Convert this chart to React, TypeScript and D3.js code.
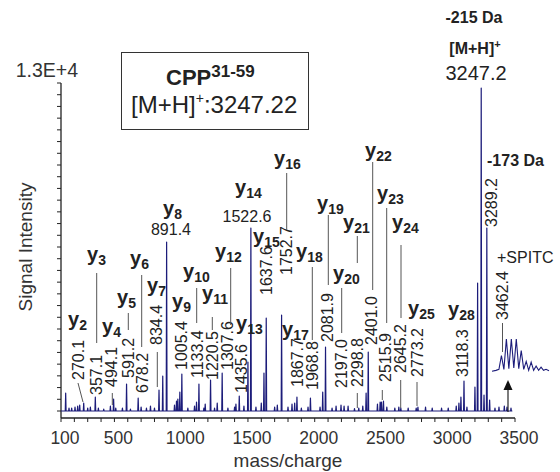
import React from "react";
import * as d3 from "d3";

// ---------- data ----------
const peakMz = [135, 270, 357, 494, 591, 678, 834, 862, 891, 990, 1005, 1115, 1133, 1220, 1307, 1435, 1500, 1522, 1620, 1637, 1752, 1850, 1867, 1968, 2060, 2081, 2197, 2220, 2298, 2385, 2401, 2490, 2515, 2645, 2773, 3095, 3118, 3200, 3220, 3247, 3268, 3289, 3310];
const peakInt = [768, 341, 598, 512, 1152, 555, 896, 1494, 7213, 811, 1579, 384, 1152, 1323, 1622, 640, 2091, 7810, 1622, 3969, 4097, 341, 598, 555, 811, 2731, 256, 213, 100, 768, 2518, 384, 427, 128, 171, 598, 1280, 1024, 5463, 13786, 683, 7810, 470];

const noiseMz = [160, 180, 205, 225, 240, 300, 320, 380, 420, 470, 510, 560, 620, 700, 740, 770, 800, 950, 965, 975, 1050, 1100, 1170, 1180, 1250, 1270, 1350, 1400, 1410, 1470, 1560, 1600, 1700, 1720, 1800, 1830, 1900, 1950, 2040, 2130, 2160, 2250, 2330, 2360, 2470, 2500, 2540, 2600, 2630, 2700, 2760, 2830, 2880, 2950, 3000, 3060, 3080, 3140, 3350, 3380, 3420, 3440, 3470];
const noiseInt = [128, 128, 171, 213, 256, 128, 171, 128, 85, 213, 128, 128, 85, 171, 128, 213, 128, 256, 427, 512, 128, 213, 128, 299, 128, 341, 128, 171, 299, 213, 171, 341, 171, 256, 171, 299, 128, 171, 171, 128, 213, 213, 128, 213, 299, 384, 171, 128, 171, 128, 128, 171, 128, 128, 128, 213, 341, 171, 128, 171, 213, 171, 128];

const insetMz = [3460.5, 3461.3, 3461.9, 3462.4, 3462.9, 3463.4, 3463.9, 3464.4, 3464.9, 3465.4, 3465.9, 3466.4, 3466.9, 3467.4, 3467.9, 3468.4, 3468.9, 3469.4, 3469.9, 3470.4, 3470.9, 3471.4, 3472];
const insetInt = [0.02, 0.05, 0.08, 0.5, 0.08, 1.0, 0.1, 1.0, 0.12, 1.0, 0.1, 0.65, 0.08, 0.32, 0.05, 0.3, 0.05, 0.18, 0.05, 0.15, 0.05, 0.08, 0.04];

const xTickLabels = [100, 500, 1000, 1500, 2000, 2500, 3000, 3500];

const ionNames = ["y2", "y3", "y4", "y5", "y6", "y7", "y8", "y9", "y10", "y11", "y12", "y13", "y14", "y15", "y16", "y17", "y18", "y19", "y20", "y21", "y22", "y23", "y24", "y25", "y28"];
const ionValues = ["270.1", "357.1", "494.1", "591.2", "678.2", "834.4", "891.4", "1005.4", "1133.4", "1220.5", "1307.6", "1435.6", "1522.6", "", "1752.7", "1867.7", "1968.8", "2081.9", "2197.0", "2298.8", "2401.0", "2515.9", "2645.2", "2773.2", "3118.3"];

// ---------- layout (positions of annotations) ----------
type Seg = [number, number, number, number];
const ionLayout: { lx: number; ly: number; vx: number; vb: number; horiz?: boolean; lines: Seg[] }[] = [
  { lx: 68, ly: 326, vx: 78, vb: 380, lines: [[78, 383, 83, 402]] },
  { lx: 87, ly: 261, vx: 96.7, vb: 395, lines: [[96.7, 273, 96.7, 343]] },
  { lx: 102, ly: 333, vx: 111.7, vb: 387, lines: [[112.3, 393, 112.3, 405]] },
  { lx: 117, ly: 304, vx: 128.3, vb: 378, lines: [[128.3, 313, 128.3, 330]] },
  { lx: 130, ly: 265, vx: 142.5, vb: 393, lines: [[141.7, 275, 141.7, 347]] },
  { lx: 147, ly: 292, vx: 156, vb: 345, lines: [[157.3, 352, 157.3, 387]] },
  { lx: 163, ly: 215, vx: 171, vb: 235, horiz: true, lines: [] },
  { lx: 172, ly: 308, vx: 181.7, vb: 370, lines: [] },
  { lx: 183, ly: 278, vx: 197.3, vb: 378, lines: [[196.7, 288, 196.7, 323]] },
  { lx: 202, ly: 300, vx: 212.3, vb: 380, lines: [[212.3, 317, 212.3, 330]] },
  { lx: 215, ly: 258, vx: 227.5, vb: 370, lines: [[230.7, 268, 230.7, 325]] },
  { lx: 236, ly: 330, vx: 241.7, vb: 393, lines: [] },
  { lx: 235, ly: 194, vx: 247, vb: 222, horiz: true, lines: [] },
  { lx: 253, ly: 243, vx: 0, vb: 0, lines: [] },
  { lx: 274, ly: 165, vx: 286, vb: 275, lines: [[286.7, 173, 286.7, 230]] },
  { lx: 282, ly: 336, vx: 297, vb: 387, lines: [] },
  { lx: 296, ly: 258, vx: 312.3, vb: 390, lines: [[312.3, 267, 312.3, 340]] },
  { lx: 317, ly: 210, vx: 327.3, vb: 342, lines: [[328.3, 215, 328.3, 285]] },
  { lx: 333, ly: 280, vx: 341, vb: 388, lines: [[341.7, 288, 341.7, 333]] },
  { lx: 343, ly: 229, vx: 357.3, vb: 387, lines: [[357.3, 236, 357.3, 263], [357.3, 393, 357.3, 408]] },
  { lx: 365, ly: 157, vx: 371.7, vb: 345, lines: [[372.7, 162, 372.7, 290]] },
  { lx: 377, ly: 200, vx: 385, vb: 382, lines: [[386.7, 208, 386.7, 323], [382.3, 390, 382.3, 400]] },
  { lx: 392, ly: 229, vx: 400.7, vb: 373, lines: [[401, 245, 401, 318], [400.7, 380, 400.7, 408]] },
  { lx: 408, ly: 315, vx: 417.3, vb: 377, lines: [[417, 382, 417, 406]] },
  { lx: 448, ly: 316, vx: 462.7, vb: 377, lines: [] },
];

const FONT = "'Liberation Sans', Arial, Helvetica, sans-serif";
const NAVY = "#1c1c7a";
const TXT = "#222";
const LINE = "#555";

export default function App() {
  const x = d3.scaleLinear().domain([100, 3500]).range([61, 515]);
  const y = d3.scaleLinear().domain([0, 14000]).range([411, 83]);
  const xi = d3.scaleLinear().domain([3460.5, 3472]).range([492, 549]);
  const yi = d3.scaleLinear().domain([0, 1]).range([372, 339]);

  // build spectrum profile
  const all = peakMz.map((m, i) => ({ m, v: peakInt[i] }))
    .concat(noiseMz.map((m, i) => ({ m, v: noiseInt[i] })))
    .sort((a, b) => a.m - b.m);
  const pts: [number, number][] = [[100, 0]];
  all.forEach((p, i) => {
    const prev = i > 0 ? all[i - 1].m : 100;
    const next = i < all.length - 1 ? all[i + 1].m : 3480;
    const hwL = Math.min(3, (p.m - prev) / 2.2);
    const hwR = Math.min(3, (next - p.m) / 2.2);
    pts.push([p.m - hwL, 0], [p.m, p.v], [p.m + hwR, 0]);
  });
  pts.push([3480, 0]);
  const line = d3.line<[number, number]>().x(d => x(d[0])).y(d => y(d[1]));
  const specPath = line(pts) || "";

  const insetLine = d3.line<number>().x((_, i) => xi(insetMz[i])).y(d => yi(d));
  const insetPath = insetLine(insetInt) || "";

  const xTicks = d3.range(100, 3501, 100);
  const yTicks = d3.range(0, 14001, 500);

  const rotText = (txt: string, vx: number, vb: number, key: string) => (
    <text key={key} transform={`translate(${vx},${vb}) rotate(-90)`} fontSize={16} dominantBaseline="central" fill={TXT}>{txt}</text>
  );

  return (
    <svg width={560} height={472} style={{ position: "absolute", left: 0, top: 0, background: "#fff" }} fontFamily={FONT}>
      <rect width={560} height={472} fill="#fff" />
      {/* axes */}
      <line x1={61} y1={83} x2={61} y2={418} stroke="#222" strokeWidth={1.3} />
      <line x1={61} y1={418} x2={515} y2={418} stroke="#222" strokeWidth={1.3} />
      {yTicks.map(t => (
        <line key={"yt" + t} x1={57} x2={61} y1={y(t)} y2={y(t)} stroke="#222" strokeWidth={1} />
      ))}
      {xTicks.map(t => (
        <line key={"xt" + t} x1={x(t)} x2={x(t)} y1={418} y2={422} stroke="#222" strokeWidth={1} />
      ))}
      {xTickLabels.map(t => (
        <text key={"xl" + t} x={x(t)} dx={4} y={444} textAnchor="middle" fontSize={17.5} fill="#333">{t}</text>
      ))}
      <text x={78} y={77} textAnchor="end" fontSize={19.5} fill="#333">1.3E+4</text>
      <text transform="translate(25,247) rotate(-90)" textAnchor="middle" dominantBaseline="central" fontSize={19} fill="#333">Signal Intensity</text>
      <text x={288} y={467} textAnchor="middle" fontSize={19} fill="#333">mass/charge</text>

      {/* spectrum */}
      <path d={specPath} fill="none" stroke={NAVY} strokeWidth={1.2} strokeLinejoin="round" />
      <path d={insetPath} fill="none" stroke={NAVY} strokeWidth={1.1} />

      {/* arrow */}
      <line x1={508} y1={412} x2={508} y2={388} stroke="#111" strokeWidth={1.1} />
      <path d="M508,380 L503.5,390 L512.5,390 Z" fill="#111" />

      {/* box */}
      <rect x={121.5} y={52.5} width={187} height={77} fill="none" stroke="#333" strokeWidth={1} />
      <text x={166} y={85} fontSize={22} fontWeight="bold" fill={TXT}>CPP<tspan fontSize={17} dy={-8}>31-59</tspan></text>
      <text x={131} y={113} fontSize={24} fill={TXT}>[M+H]<tspan fontSize={14} dy={-10}>+</tspan><tspan dy={10}>:3247.22</tspan></text>

      {/* top labels */}
      <text x={474} y={23} textAnchor="middle" fontSize={16} fontWeight="bold" fill={TXT}>-215 Da</text>
      <text x={475} y={54} textAnchor="middle" fontSize={16} fontWeight="bold" fill={TXT}>[M+H]<tspan fontSize={11} dy={-6}>+</tspan></text>
      <text x={476} y={80} textAnchor="middle" fontSize={20} fill={TXT}>3247.2</text>
      <text x={487} y={166} fontSize={16} fontWeight="bold" fill={TXT}>-173 Da</text>
      <text x={497} y={263} fontSize={16} fill={TXT}>+SPITC</text>

      {/* ion annotations */}
      {ionLayout.map((L, i) => (
        <g key={"ion" + i}>
          <text x={L.lx} y={L.ly} fontSize={20} fontWeight="bold" fill={TXT}>{ionNames[i][0]}<tspan fontSize={14} dy={4}>{ionNames[i].slice(1)}</tspan></text>
          {ionValues[i] !== "" && (L.horiz
            ? <text x={L.vx} y={L.vb} textAnchor="middle" fontSize={16} fill={TXT}>{ionValues[i]}</text>
            : rotText(ionValues[i], L.vx, L.vb, "v" + i))}
          {L.lines.map((s, j) => (
            <line key={j} x1={s[0]} y1={s[1]} x2={s[2]} y2={s[3]} stroke={LINE} strokeWidth={1} />
          ))}
        </g>
      ))}
      {rotText("1637.6", 266.7, 295, "e1")}
      {rotText("3289.2", 491, 227, "e2")}
      {rotText("3462.4", 502.7, 320, "e3")}
      <line x1={502.5} y1={323} x2={502.5} y2={352} stroke={LINE} strokeWidth={1} />
    </svg>
  );
}
